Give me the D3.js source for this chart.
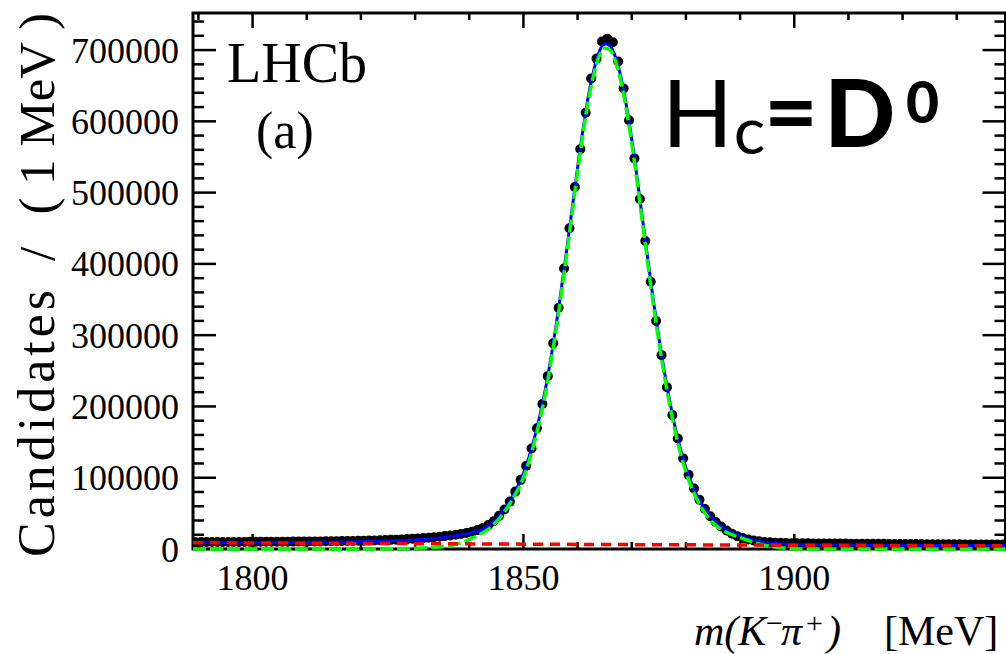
<!DOCTYPE html>
<html><head><meta charset="utf-8">
<script src="https://cdn.jsdelivr.net/npm/d3@7/dist/d3.min.js"></script>
<style>body{margin:0;background:#fff}svg{display:block}</style>
</head><body>
<svg id="chart" width="1006" height="654"></svg>
<script>
// ---- data ----
const binLow = 1789;      // first bin lower edge [MeV]
const binWidth = 1;       // 1 MeV bins
const counts = [
  9600,9650,9700,9700,9750,9800,9800,9850,9900,9950,
  10000,10000,10050,10100,10150,10200,10250,10300,10350,10400,
  10450,10500,10600,10650,10750,10850,10950,11050,11200,11350,
  11500,11650,11850,12050,12300,12550,12850,13150,13500,13900,
  14300,14800,15300,15900,16600,17300,18100,19000,20000,21200,
  22600,24300,26500,29400,33500,39000,46500,55500,66500,80500,
  97000,116500,141000,169500,203500,242500,288500,338500,393500,450000,
  508000,561000,612000,660000,688000,712000,716000,711000,684000,646000,
  601500,548000,491000,432000,375000,320000,272000,227000,188000,155000,
  127000,104000,85000,69000,56000,46000,38000,31500,26000,21500,
  18000,15300,13300,11800,10700,9900,9300,8900,8600,8300,
  8100,8000,7950,7900,7850,7800,7750,7700,7650,7600,
  7550,7500,7450,7400,7350,7300,7250,7200,7150,7100,
  7050,7000,6950,6900,6850,6800,6750,6700,6650,6600,
  6550,6500,6450,6400,6380,6350,6300,6280,6250,6200
];
const fitMass  = [1789,1800,1810,1815,1820,1825,1830,1834,1837,1840,1842,1844,1846,1848,1850,1852,1854,1856,1858,1860,1862,1863,1864,1865,1866,1867,1868,1870,1872,1874,1876,1878,1880,1882,1884,1886,1888,1890,1892,1894,1896,1898,1900,1910,1920,1930,1939];
const fitTotal = [8800,8900,9200,9500,10300,11300,12800,15000,17800,22000,26500,35000,51000,74000,106000,155000,222000,312000,420000,535000,636000,672000,698000,709000,706000,690000,662000,575000,462000,348000,250000,171000,114000,76000,51000,35000,25000,18500,13500,10000,8000,7000,6400,5600,5200,4900,4700];
const sigMass   = [1789,1822,1826,1830,1833,1835,1837.5,1840.5,1842,1844,1846,1848,1850,1852,1854,1856,1858,1860,1862,1863,1864,1865,1866,1867,1868,1870,1872,1874,1876,1878,1880,1882,1884,1886,1888,1890,1893,1896,1898.5,1901,1939];
const sigValues = [0,0,300,1000,2000,3200,6500,15000,21000,30500,47000,70000,100000,149000,216000,306000,414000,529000,630000,666000,692000,703000,700000,684000,656000,569000,456000,342000,244000,165000,108000,70000,45000,30000,21500,16000,8000,3200,1000,0,0];
const bkgMass   = [1789,1830,1875,1939];
const bkgValues = [8800,7500,6000,4600];
const xMajorTicks = [1800,1850,1900];
const xMinorTicks = [1790,1800,1810,1820,1830,1840,1850,1860,1870,1880,1890,1900,1910,1920,1930];
const yMajorTicks = [0,100000,200000,300000,400000,500000,600000,700000];
const yMinorStep = 20000;
const xDomain = [1789,1939];
const yDomain = [0,752000];

// ---- layout ----
const L = 193, R = 1005.5, T = 13, B = 549;
const svg = d3.select('#chart');
const x = d3.scaleLinear().domain(xDomain).range([L, R]);
const y = d3.scaleLinear().domain(yDomain).range([B, T]);
const serif = "'Liberation Serif','Times New Roman',serif";

// frame ticks (inside)
const g = svg.append('g').attr('stroke','#000').attr('stroke-width',2.5);
const yMinor = d3.range(yDomain[0], yDomain[1], yMinorStep);
yMinor.forEach(v=>{
  const major = yMajorTicks.includes(v);
  const len = major ? 23 : 11;
  g.append('line').attr('x1',L).attr('x2',L+len).attr('y1',y(v)).attr('y2',y(v));
  g.append('line').attr('x1',R).attr('x2',R-len).attr('y1',y(v)).attr('y2',y(v));
});
xMinorTicks.forEach(v=>{
  const major = xMajorTicks.includes(v);
  const len = major ? 15 : 7;
  g.append('line').attr('x1',x(v)).attr('x2',x(v)).attr('y1',B).attr('y2',B-len);
  g.append('line').attr('x1',x(v)).attr('x2',x(v)).attr('y1',T).attr('y2',T+len);
});
svg.append('rect').attr('x',L).attr('y',T).attr('width',R-L).attr('height',B-T)
  .attr('fill','none').attr('stroke','#000').attr('stroke-width',3);

// tick labels
svg.append('g').selectAll('text').data(yMajorTicks).join('text')
  .attr('x',179).attr('y',d=>y(d)+12.5).attr('text-anchor','end')
  .attr('font-family',serif).attr('font-size',36).text(d=>d3.format('d')(d));
svg.append('g').selectAll('text').data(xMajorTicks).join('text')
  .attr('x',d=>x(d)).attr('y',590).attr('text-anchor','middle')
  .attr('font-family',serif).attr('font-size',36).text(d=>d);

// y axis title (rotated); pieces placed along the axis
const yt = svg.append('g').attr('transform','translate(54,0) rotate(-90)')
  .attr('font-family',serif).attr('font-size',51);
yt.append('text').attr('x',-557).attr('y',0).attr('font-size',52).attr('letter-spacing',4).text('Candidates');
yt.append('text').attr('x',-254).attr('y',0).attr('text-anchor','middle').text('/');
yt.append('text').attr('x',-13).attr('y',0).attr('text-anchor','end').text('( 1 MeV )');

// x axis title
const xt = svg.append('text').attr('y',645).attr('font-family',serif).attr('font-size',42);
xt.append('tspan').attr('x',694).attr('font-style','italic').text('m(K');
xt.append('tspan').attr('x',766).attr('y',633).attr('font-size',30).text('\u2212');
xt.append('tspan').attr('x',781).attr('y',645).attr('font-style','italic').text('\u03c0');
xt.append('tspan').attr('x',806).attr('y',633).attr('font-size',30).text('+');
xt.append('tspan').attr('x',827).attr('y',645).attr('font-style','italic').text(')');
xt.append('tspan').attr('x',884).text('[MeV]');

// labels in plot
svg.append('text').attr('x',227).attr('y',82).attr('font-family',serif).attr('font-size',56).text('LHCb');
svg.append('text').attr('x',256).attr('y',148).attr('font-family',serif).attr('font-size',52).text('(a)');
const sans = "Lato,'Open Sans','DejaVu Sans',sans-serif";
svg.append('text').attr('x',697.5).attr('y',147).attr('text-anchor','middle').attr('font-family',sans).attr('font-size',93).text('H');
svg.append('text').attr('x',749.5).attr('y',154).attr('text-anchor','middle').attr('font-family',sans).attr('font-size',66).text('c');
svg.append('text').attr('x',791).attr('y',145).attr('text-anchor','middle').attr('font-family',sans).attr('font-size',93).attr('font-weight',700).text('=');
svg.append('text').attr('x',860).attr('y',147).attr('text-anchor','middle').attr('font-family',sans).attr('font-size',93).attr('font-weight',900).text('D');
svg.append('text').attr('x',922.5).attr('y',123).attr('text-anchor','middle').attr('font-family',sans).attr('font-size',57).attr('font-weight',900).text('0');

// clip
svg.append('clipPath').attr('id','clip').append('rect').attr('x',L).attr('y',T).attr('width',R-L).attr('height',B-T+4);
const plot = svg.append('g').attr('clip-path','url(#clip)');

// data points
plot.append('g').selectAll('circle').data(counts).join('circle')
  .attr('cx',(d,i)=>x(binLow + (i+0.5)*binWidth)).attr('cy',d=>y(d)).attr('r',5).attr('fill','#000');

// fit curves
const mk = (xs,ys)=>xs.map((m,i)=>[m,ys[i]]);
const line = d3.line().x(d=>x(d[0])).y(d=>y(d[1])).curve(d3.curveMonotoneX);
plot.append('path').attr('d',line(mk(fitMass,fitTotal))).attr('fill','none').attr('stroke','#0000ff').attr('stroke-width',3);
plot.append('path').attr('d',line(mk(sigMass,sigValues))).attr('fill','none').attr('stroke','#00ff00').attr('stroke-width',3.5).attr('stroke-dasharray','13,4');
plot.append('path').attr('d',line(mk(bkgMass,bkgValues))).attr('fill','none').attr('stroke','#ff0000').attr('stroke-width',3.5).attr('stroke-dasharray','10,7');
</script>
</body></html>
